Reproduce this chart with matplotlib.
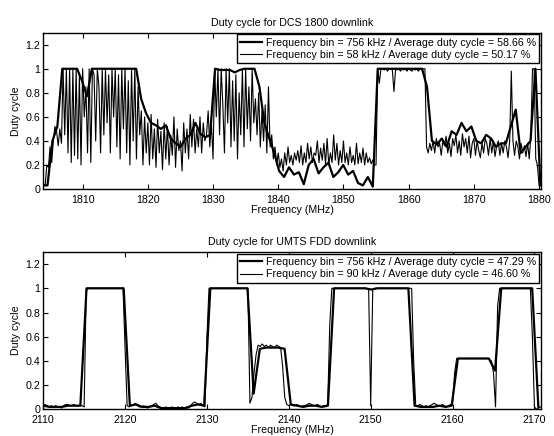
#  duty cycle plots, DCS 1800 and UMTS FDD downlink
import matplotlib
matplotlib.use('Agg')
import matplotlib.pyplot as plt
import numpy as np

plt.rcParams['font.family'] = ['Liberation Sans', 'DejaVu Sans']
plt.rcParams['font.size'] = 7.7

# ---- DCS 1800 downlink ----
dcs_bin_wide = 0.756      # MHz
dcs_start_wide = 1803.85
dcs_wide = [0.03, 0.03, 0.40, 0.52, 1.00, 1.00, 1.00, 1.00, 0.90, 0.77,
            1.00, 1.00, 1.00, 1.00, 1.00, 1.00, 1.00, 1.00, 1.00, 1.00,
            0.75, 0.63, 0.55, 0.53, 0.50, 0.53, 0.42, 0.38, 0.35, 0.42,
            0.45, 0.55, 0.46, 0.43, 0.45, 1.00, 0.99, 0.99, 0.99, 0.97,
            0.99, 1.00, 1.00, 1.00, 0.85, 0.55, 0.42, 0.30, 0.15, 0.10,
            0.18, 0.12, 0.14, 0.04, 0.20, 0.25, 0.13, 0.18, 0.22, 0.10,
            0.14, 0.20, 0.12, 0.15, 0.05, 0.03, 0.10, 0.02, 1.00, 1.00,
            1.00, 1.00, 1.00, 1.00, 1.00, 1.00, 1.00, 1.00, 0.85, 0.40,
            0.37, 0.42, 0.35, 0.48, 0.45, 0.55, 0.48, 0.52, 0.40, 0.38,
            0.45, 0.42, 0.35, 0.38, 0.38, 0.52, 0.66, 0.30, 0.35, 0.40,
            1.00, 0.03]

dcs_bin_narrow = 0.25     # plotted step of the 58 kHz trace
dcs_start_narrow = 1804.0
dcs_narrow = [
    0.03, 0.03, 0.20, 0.18,  0.35, 0.22, 0.40, 0.52,  0.48, 0.36, 0.50, 0.38,   # 1804-1806
    1.00, 0.45, 1.00, 0.30,  1.00, 0.22, 1.00, 0.28,  1.00, 0.25, 0.95, 0.20,   # 1807-1809
    1.00, 0.60, 0.85, 0.30,  1.00, 0.22, 1.00, 0.95,  0.40, 1.00, 0.85, 0.30,   # 1810-1812
    1.00, 0.45, 1.00, 0.55,  0.95, 0.30, 1.00, 0.60,  1.00, 0.35, 0.95, 0.25,   # 1813-1815
    1.00, 0.50, 1.00, 0.30,  0.90, 0.20, 1.00, 0.40,  1.00, 0.25, 0.85, 0.45,   # 1816-1818
    0.65, 0.20, 0.60, 0.30,  0.55, 0.20, 0.62, 0.25,  0.50, 0.18, 0.58, 0.30,   # 1819-1821
    0.48, 0.16, 0.55, 0.25,  0.52, 0.20, 0.45, 0.28,  0.60, 0.18, 0.50, 0.32,   # 1822-1824
    0.40, 0.15, 0.55, 0.30,  0.50, 0.25, 0.62, 0.35,  0.58, 0.30, 0.50, 0.35,   # 1825-1827
    0.60, 0.30, 0.55, 0.40,  0.45, 0.65, 0.35, 0.55,  0.25, 1.00, 0.60, 1.00,   # 1828-1830
    0.45, 1.00, 0.70, 0.30,  1.00, 0.55, 1.00, 0.35,  0.90, 0.40, 0.95, 0.25,   # 1831-1833
    0.80, 0.45, 1.00, 0.35,  1.00, 0.50, 0.85, 0.40,  1.00, 0.55, 0.75, 0.45,   # 1834-1836
    0.80, 0.35, 0.65, 0.40,  0.70, 0.30, 0.85, 0.35,  0.45, 0.25, 0.35, 0.20,   # 1837-1839
    0.30, 0.18, 0.25, 0.15,  0.30, 0.20, 0.35, 0.22,  0.28, 0.20, 0.30, 0.24,   # 1840-1842
    0.32, 0.22, 0.36, 0.20,  0.30, 0.22, 0.38, 0.25,  0.35, 0.22, 0.30, 0.28,   # 1843-1845
    0.40, 0.22, 0.34, 0.24,  0.38, 0.21, 0.42, 0.20,  0.30, 0.22, 0.45, 0.24,   # 1846-1848
    0.38, 0.20, 0.32, 0.22,  0.40, 0.22, 0.30, 0.20,  0.35, 0.22, 0.28, 0.20,   # 1849-1851
    0.38, 0.21, 0.30, 0.22,  0.34, 0.20, 0.30, 0.22,  0.26, 0.21, 0.24, 0.20,   # 1852-1854
    0.20, 1.00, 0.88, 1.00,  1.00, 0.99, 1.00, 0.98,  1.00, 1.00, 0.99, 0.81,   # 1855-1857
    1.00, 0.99, 1.00, 0.98,  1.00, 0.99, 1.00, 0.98,  1.00, 0.99, 0.98, 1.00,   # 1858-1860
    0.99, 1.00, 0.98, 1.00,  0.99, 1.00, 1.00, 0.35,  0.30, 0.38, 0.32, 0.40,   # 1861-1863
    0.30, 0.42, 0.35, 0.38,  0.28, 0.40, 0.36, 0.44,  0.30, 0.38, 0.27, 0.42,   # 1864-1866
    0.36, 0.45, 0.30, 0.40,  0.28, 0.46, 0.35, 0.42,  0.30, 0.44, 0.26, 0.38,   # 1867-1869
    0.42, 0.28, 0.40, 0.32,  0.26, 0.38, 0.30, 0.42,  0.38, 0.28, 0.42, 0.30,   # 1870-1872
    0.40, 0.27, 0.36, 0.40,  0.28, 0.38, 0.30, 0.40,  0.35, 0.26, 0.40, 0.98,   # 1873-1875
    0.40, 0.28, 0.40, 0.35,  0.25, 0.38, 0.30, 0.36,  0.27, 0.38, 0.25, 0.45,   # 1876-1878
    1.00, 1.00, 0.25, 0.20,  0.03, 0.03]                                        # 1879-1880

# ---- UMTS FDD downlink ----
umts_bin_wide = 0.756
umts_start_wide = 2110.0
umts_wide = [0.03, 0.02, 0.02, 0.02, 0.03, 0.03, 0.03, 1.00, 1.00, 1.00,
             1.00, 1.00, 1.00, 1.00, 0.03, 0.04, 0.02, 0.02, 0.03, 0.01,
             0.01, 0.01, 0.01, 0.01, 0.03, 0.04, 0.03, 1.00, 1.00, 1.00,
             1.00, 1.00, 1.00, 1.00, 0.13, 0.50, 0.51, 0.51, 0.51, 0.50,
             0.04, 0.03, 0.02, 0.03, 0.03, 0.02, 0.03, 1.00, 1.00, 1.00,
             1.00, 1.00, 1.00, 0.99, 1.00, 1.00, 1.00, 1.00, 1.00, 1.00,
             0.03, 0.02, 0.02, 0.02, 0.03, 0.02, 0.03, 0.42, 0.42, 0.42,
             0.42, 0.42, 0.42, 0.32, 1.00, 1.00, 1.00, 1.00, 1.00, 1.00,
             0.02]

umts_bin_narrow = 0.25    # plotted step of the 90 kHz trace
umts_start_narrow = 2110.0
umts_narrow = [
    0.03, 0.04, 0.03, 0.02,  0.03, 0.02, 0.03, 0.02,  0.02, 0.01, 0.03, 0.04,   # 2110-2112
    0.04, 0.03, 0.03, 0.04,  0.03, 0.03, 0.03, 0.03,  0.02, 0.98, 1.00, 1.00,   # 2113-2115
    1.00, 1.00, 1.00, 1.00,  1.00, 1.00, 1.00, 1.00,  1.00, 1.00, 1.00, 1.00,   # 2116-2118
    1.00, 1.00, 1.00, 1.00,  0.50, 0.03, 0.02, 0.03,  0.04, 0.05, 0.03, 0.02,   # 2119-2121
    0.02, 0.03, 0.02, 0.01,  0.02, 0.03, 0.04, 0.05,  0.03, 0.02, 0.01, 0.01,   # 2122-2124
    0.02, 0.01, 0.01, 0.02,  0.01, 0.01, 0.02, 0.01,  0.02, 0.01, 0.02, 0.01,   # 2125-2127
    0.03, 0.05, 0.06, 0.05,  0.04, 0.05, 0.03, 0.02,  0.60, 1.00, 1.00, 1.00,   # 2128-2130
    1.00, 1.00, 1.00, 1.00,  1.00, 1.00, 1.00, 1.00,  1.00, 1.00, 1.00, 1.00,   # 2131-2133
    1.00, 1.00, 1.00, 1.00,  1.00, 0.05, 0.10, 0.30,  0.45, 0.53, 0.52, 0.54,   # 2134-2136
    0.52, 0.53, 0.51, 0.53,  0.52, 0.51, 0.53, 0.52,  0.51, 0.35, 0.10, 0.04,   # 2137-2139
    0.03, 0.04, 0.03, 0.03,  0.04, 0.03, 0.02, 0.03,  0.03, 0.04, 0.05, 0.04,   # 2140-2142
    0.03, 0.03, 0.04, 0.03,  0.02, 0.03, 0.03, 0.04,  0.70, 1.00, 1.00, 1.00,   # 2143-2145
    1.00, 1.00, 1.00, 1.00,  1.00, 1.00, 1.00, 1.00,  1.00, 1.00, 1.00, 1.00,   # 2146-2148
    1.00, 1.00, 1.00, 0.99,  0.03, 0.99, 1.00, 1.00,  1.00, 1.00, 1.00, 1.00,   # 2149-2151
    1.00, 1.00, 1.00, 1.00,  1.00, 1.00, 1.00, 1.00,  1.00, 1.00, 1.00, 1.00,   # 2152-2154
    1.00, 0.40, 0.03, 0.03,  0.04, 0.03, 0.02, 0.03,  0.02, 0.03, 0.04, 0.05,   # 2155-2157
    0.04, 0.03, 0.03, 0.04,  0.03, 0.02, 0.03, 0.04,  0.05, 0.30, 0.42, 0.42,   # 2158-2160
    0.42, 0.42, 0.42, 0.42,  0.42, 0.42, 0.42, 0.42,  0.42, 0.42, 0.42, 0.42,   # 2161-2163
    0.42, 0.42, 0.41, 0.40,  0.30, 0.02, 0.85, 1.00,  1.00, 1.00, 1.00, 1.00,   # 2164-2166
    1.00, 1.00, 1.00, 1.00,  1.00, 1.00, 1.00, 1.00,  1.00, 1.00, 1.00, 0.60,   # 2167-2169
    0.02, 0.00, 0.01, 0.02]                                                     # 2170

yticks = [0, 0.2, 0.4, 0.6, 0.8, 1.0, 1.2]
ytick_labels = ['0', '0.2', '0.4', '0.6', '0.8', '1', '1.2']

panels = [
    dict(title='Duty cycle for DCS 1800 downlink',
         wide=(dcs_start_wide, dcs_bin_wide, dcs_wide),
         narrow=(dcs_start_narrow, dcs_bin_narrow, dcs_narrow),
         labels=['Frequency bin = 756 kHz / Average duty cycle = 58.66 %',
                 'Frequency bin = 58 kHz / Average duty cycle = 50.17 %'],
         xlim=(1803.95, 1880.3), xticks=range(1810, 1881, 10)),
    dict(title='Duty cycle for UMTS FDD downlink',
         wide=(umts_start_wide, umts_bin_wide, umts_wide),
         narrow=(umts_start_narrow, umts_bin_narrow, umts_narrow),
         labels=['Frequency bin = 756 kHz / Average duty cycle = 47.29 %',
                 'Frequency bin = 90 kHz / Average duty cycle = 46.60 %'],
         xlim=(2110, 2170.8), xticks=range(2110, 2171, 10)),
]

fig = plt.figure(figsize=(5.54, 4.36), dpi=100)
axes_pos = [[0.078, 0.5665, 0.8985, 0.3585], [0.078, 0.0612, 0.8985, 0.3608]]

for pos, p in zip(axes_pos, panels):
    ax = fig.add_axes(pos)
    s, b, v = p['wide']
    x_wide = s + b * np.arange(len(v))
    ax.plot(x_wide, v, color='black', lw=1.6, label=p['labels'][0])
    s, b, v = p['narrow']
    x_narrow = s + b * np.arange(len(v))
    ax.plot(x_narrow, v, color='black', lw=0.8, label=p['labels'][1])

    ax.set_xlim(*p['xlim'])
    ax.set_ylim(0, 1.3)
    ax.set_xticks(list(p['xticks']))
    ax.set_yticks(yticks)
    ax.set_yticklabels(ytick_labels)
    ax.tick_params(direction='in', top=True, right=True, length=3.5, width=0.8)
    ax.tick_params(axis='x', pad=4)
    ax.tick_params(axis='y', pad=2)
    for sp in ax.spines.values():
        sp.set_linewidth(1.0)
    ax.set_title(p['title'], fontsize=7.7, pad=5)
    ax.set_xlabel('Frequency (MHz)', labelpad=0)
    ax.set_ylabel('Duty cycle', labelpad=3)
    leg = ax.legend(loc='upper right', borderaxespad=0.15, fancybox=False,
                    framealpha=1, edgecolor='black', handlelength=2.0,
                    labelspacing=0.25, borderpad=0.3, handletextpad=0.4)
    leg.get_frame().set_linewidth(1.0)

fig.savefig('out.png', dpi=100)
